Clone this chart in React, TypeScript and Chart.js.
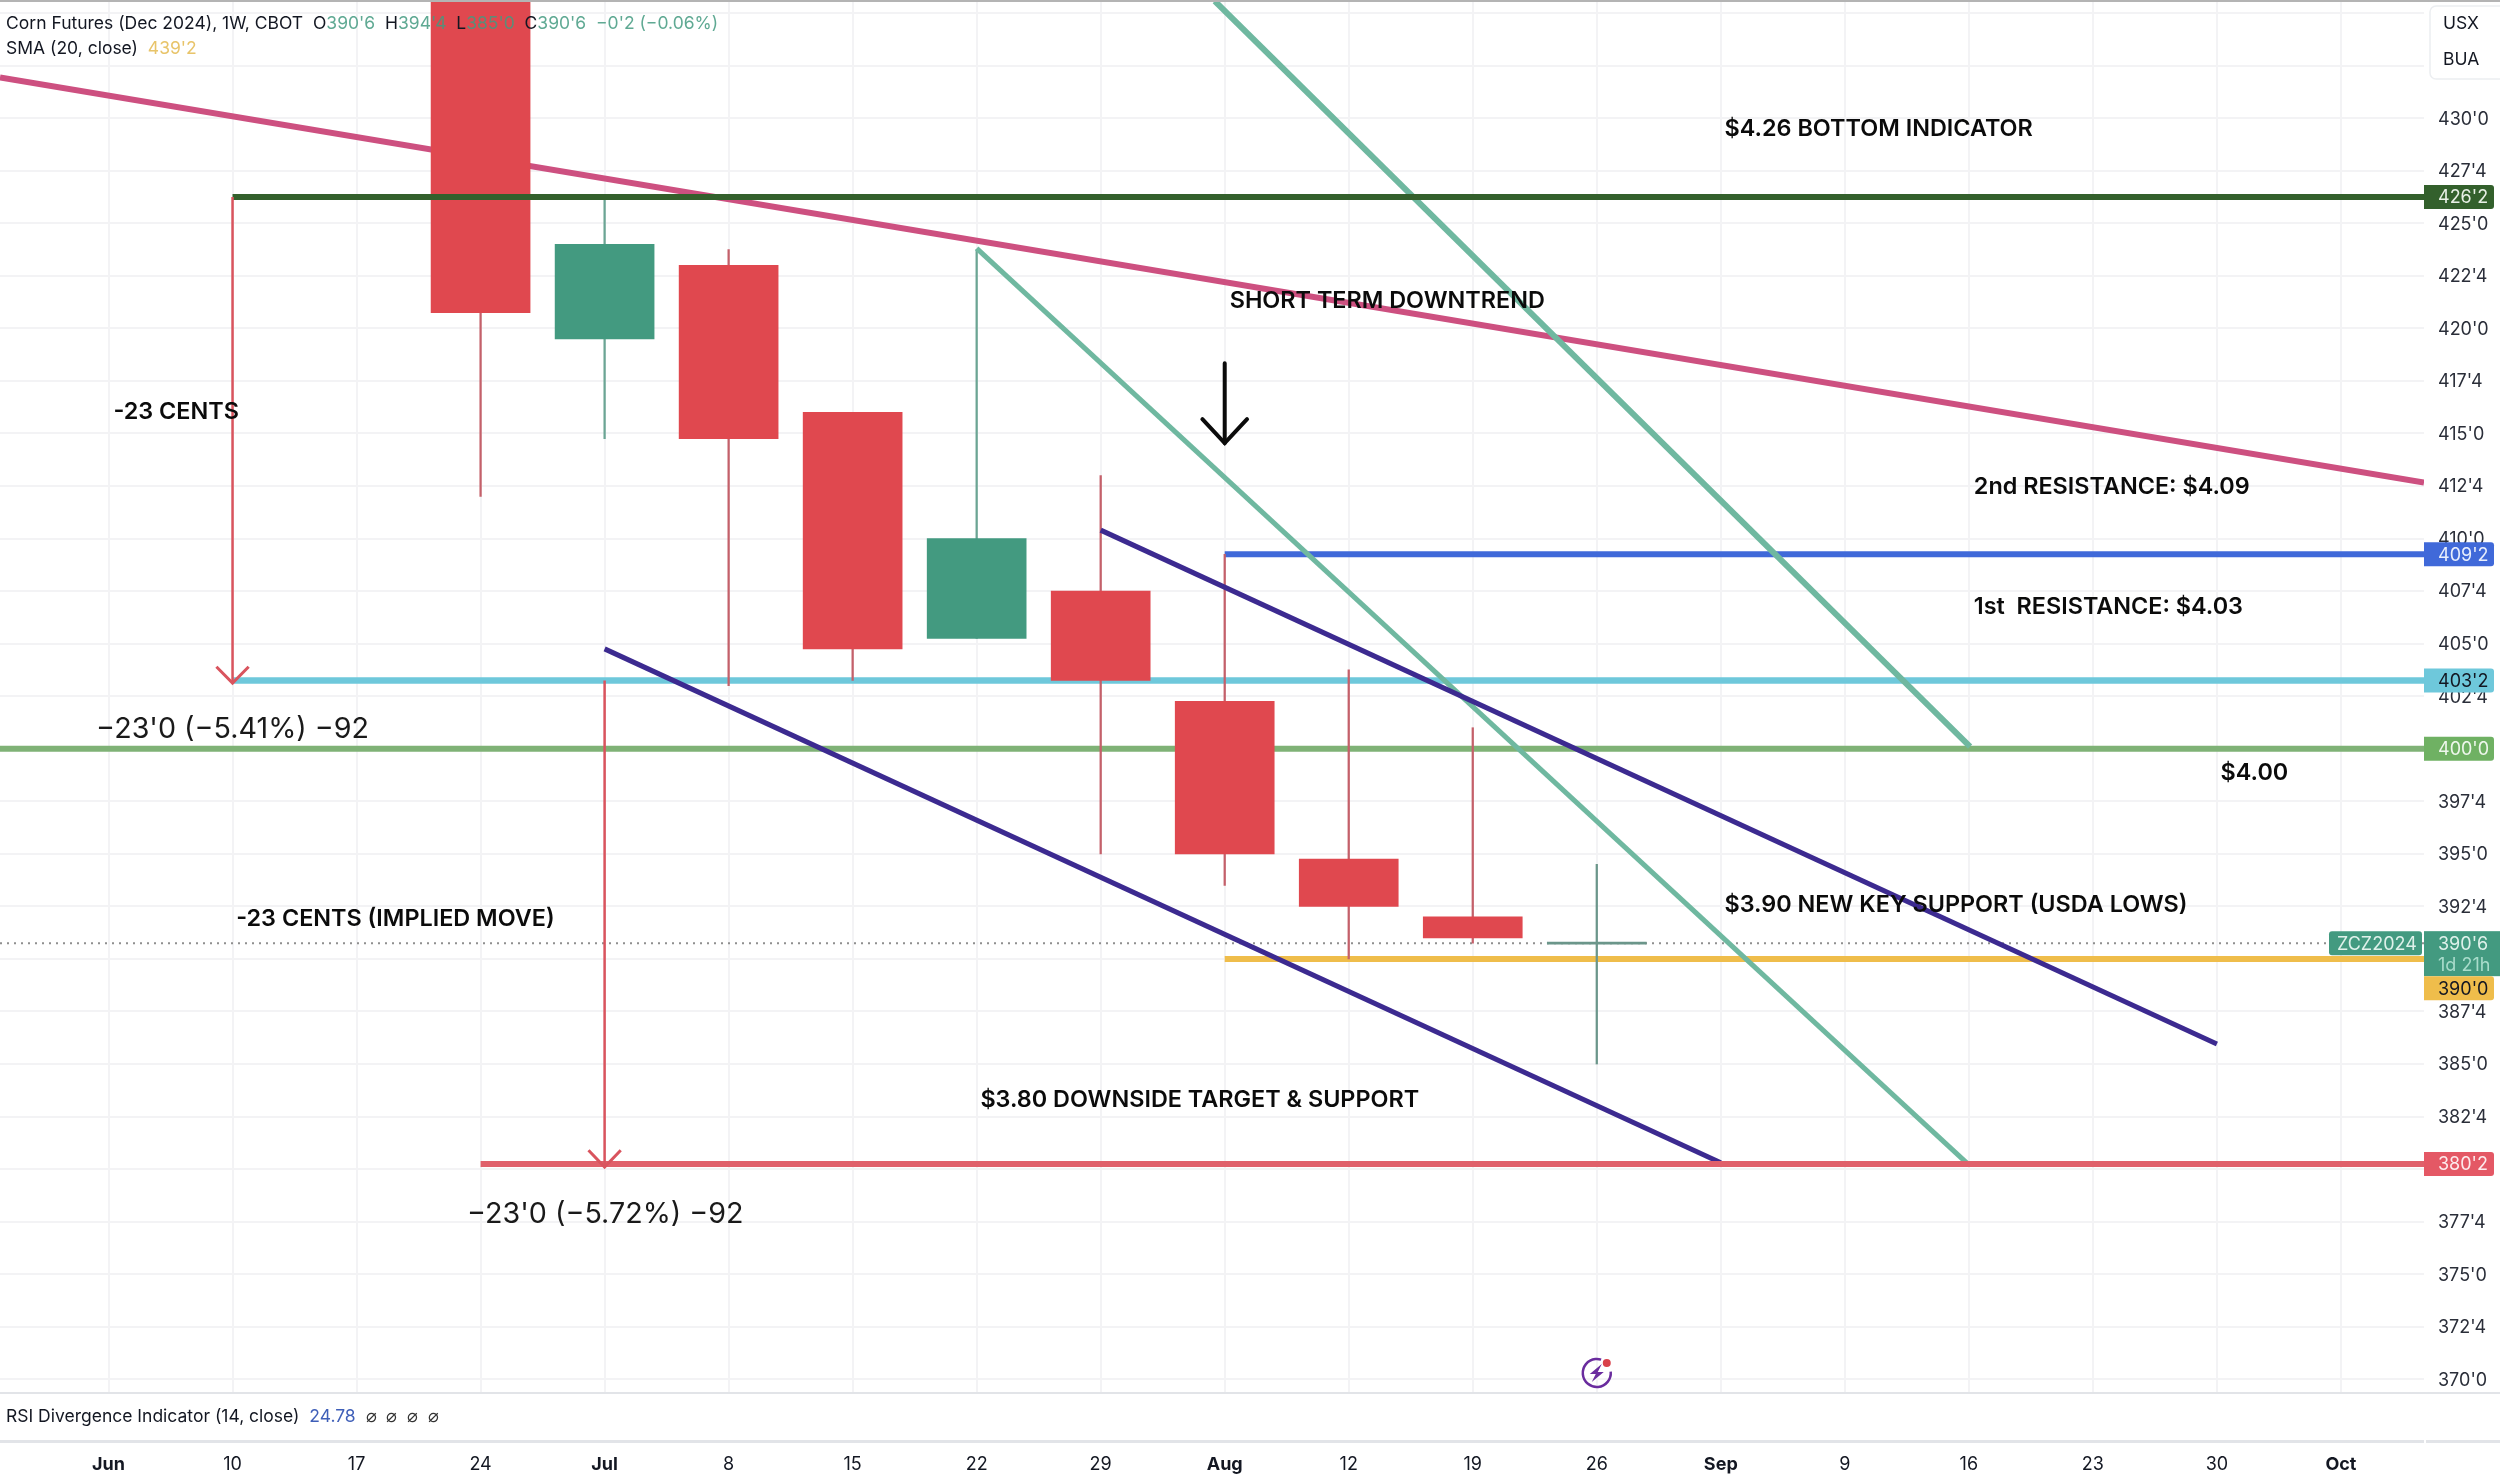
import React, { useEffect, useRef } from "react";
import { Chart, registerables } from "chart.js";

Chart.register(...registerables);

// ---- data ----
const weekLabels = ["Jun", "10", "17", "24", "Jul", "8", "15", "22", "29", "Aug", "12", "19", "26", "Sep", "9", "16", "23", "30", "Oct"];
const monthLabels = ["Jun", "Jul", "Aug", "Sep", "Oct"];
const candleWeeks = [3, 4, 5, 6, 7, 8, 9, 10, 11, 12];
const opens = [441, 419.5, 423, 416, 405.25, 407.5, 402.25, 394.75, 392, 390.7];
const closes = [420.75, 424, 414.75, 404.75, 410, 403.25, 395, 392.5, 391, 390.8];
const highs = [445, 426.25, 423.75, 416, 423.75, 413, 409.25, 403.75, 401, 394.5];
const lows = [412, 414.75, 403, 403.25, 405.25, 395, 393.5, 390, 390.75, 385];
const yTickValues = [370, 372.5, 375, 377.5, 380, 382.5, 385, 387.5, 390, 392.5, 395, 397.5, 400, 402.5, 405, 407.5, 410, 412.5, 415, 417.5, 420, 422.5, 425, 427.5, 430, 432.5, 435];
const hiddenYTicks = [390, 432.5, 435];

const darkGreenLevel = [[1, 426.25], [18.67, 426.25]];
const blueLevel = [[9, 409.25], [18.67, 409.25]];
const cyanLevel = [[1, 403.25], [18.67, 403.25]];
const greenLevel = [[-0.875, 400], [18.67, 400]];
const yellowLevel = [[9, 390], [18.67, 390]];
const redLevel = [[3, 380.25], [18.67, 380.25]];
const lastPriceLine = [[-0.875, 390.75], [18.67, 390.75]];
const pinkTrend = [[-0.875, 431.93], [18.67, 412.66]];
const tealThickTrend = [[8.92, 435.57], [15.01, 400.1]];
const tealThinTrend = [[7, 423.8], [15, 380.2]];
const purpleUpperTrend = [[8, 410.4], [17, 385.95]];
const purpleLowerTrend = [[4, 404.75], [13, 380.3]];
const redArrowA = [[1, 426.25], [1, 403.12]];
const redArrowAHead = [[0.87, 403.9], [1, 403.12], [1.13, 403.9]];
const redArrowB = [[4, 403.25], [4, 380.1]];
const redArrowBHead = [[3.87, 380.9], [4, 380.1], [4.13, 380.9]];
const blackArrow = [[9, 418.34], [9, 414.54]];
const blackArrowHead = [[8.82, 415.68], [9, 414.54], [9.18, 415.68]];

const noteTexts = ["$4.26 BOTTOM INDICATOR", "SHORT TERM DOWNTREND", "-23 CENTS", "2nd RESISTANCE: $4.09", "1st  RESISTANCE: $4.03", "$4.00", "-23 CENTS (IMPLIED MOVE)", "$3.90 NEW KEY SUPPORT (USDA LOWS)", "$3.80 DOWNSIDE TARGET & SUPPORT"];
const noteWeeks = [13.03, 9.04, 0.04, 15.04, 15.04, 17.03, 1.03, 13.03, 7.03];
const notePrices = [429.5, 421.3, 416, 412.43, 406.75, 398.85, 391.88, 392.57, 383.3];
const measureTexts = ["\u221223'0 (\u22125.41%) \u221292", "\u221223'0 (\u22125.72%) \u221292"];
const measureWeeks = [-0.1, 2.89];
const measurePrices = [400.9, 377.85];

const tagValues = [426.25, 409.25, 403.25, 400, 380.25];
const tagLabels = ["426'2", "409'2", "403'2", "400'0", "380'2"];
const tagFills = ["#33602c", "#4069d9", "#6ec8db", "#6fb163", "#e45865"];
const tagInks = ["#e8f0e6", "#e8eefc", "#131722", "#eef7ec", "#fdeaec"];

const RED = "#e0484f";
const GREEN = "#439a80";
const FONT = "Inter, sans-serif";

const fmt = (v: number) => {
  const whole = Math.floor(v);
  return `${whole}'${Math.round((v - whole) * 8)}`;
};

const toPoints = (pts: number[][]) => pts.map(([x, y]) => ({ x, y }));

const line = (pts: number[][], color: string, width: number, order: number, extra: any = {}) => ({
  type: "line",
  data: toPoints(pts),
  borderColor: color,
  borderWidth: width,
  pointRadius: 0,
  tension: 0,
  fill: false,
  order,
  ...extra,
});

const overlay = {
  id: "overlay",
  afterDraw(chart: any) {
    const { ctx, scales } = chart;
    const x = scales.x;
    const y = scales.y;
    const right = chart.chartArea.right;
    const W = chart.width;
    ctx.save();
    ctx.textBaseline = "middle";
    ctx.textAlign = "left";

    // notes
    ctx.fillStyle = "#0b0b0b";
    ctx.font = `600 23.4px ${FONT}`;
    noteTexts.forEach((t, i) => ctx.fillText(t, x.getPixelForValue(noteWeeks[i]), y.getPixelForValue(notePrices[i])));
    ctx.fillStyle = "#1a1a1a";
    ctx.font = `400 28.7px ${FONT}`;
    measureTexts.forEach((t, i) => ctx.fillText(t, x.getPixelForValue(measureWeeks[i]), y.getPixelForValue(measurePrices[i])));

    // pane separators
    ctx.fillStyle = "#b4b4b4";
    ctx.fillRect(0, 0, W, 2);
    ctx.fillStyle = "#e2e4e8";
    ctx.fillRect(0, 1392, W, 2);
    ctx.fillRect(0, 1440, right, 3);
    ctx.fillRect(right + 2, 1440, W - right, 3);

    // header runs
    const runs = (px: number, py: number, parts: [string, string][]) => {
      let cx = px;
      parts.forEach(([t, c]) => {
        ctx.fillStyle = c;
        ctx.fillText(t, cx, py);
        cx += ctx.measureText(t).width;
      });
    };
    const tv = "rgba(67,154,128,0.85)";
    ctx.font = `400 17.5px ${FONT}`;
    runs(6, 24, [["Corn Futures (Dec 2024), 1W, CBOT  O", "#131722"], ["390'6", tv], ["  H", "#131722"], ["394'4", tv], ["  L", "#131722"], ["385'0", tv], ["  C", "#131722"], ["390'6", tv], ["  \u22120'2 (\u22120.06%)", tv]]);
    runs(6, 49, [["SMA (20, close)  ", "#131722"], ["439'2", "#e8c46a"]]);
    runs(6, 1417, [["RSI Divergence Indicator (14, close)  ", "#131722"], ["24.78", "#3f5fb8"], ["  \u2300  \u2300  \u2300  \u2300", "#333333"]]);

    // unit box
    ctx.strokeStyle = "#eceef1";
    ctx.lineWidth = 1.5;
    ctx.beginPath();
    ctx.roundRect(2430, 6, 80, 73, 6);
    ctx.stroke();
    ctx.fillStyle = "#131722";
    ctx.font = `400 17.5px ${FONT}`;
    ctx.fillText("USX", 2443, 24);
    ctx.fillText("BUA", 2443, 60);

    // axis tags
    ctx.font = `400 18px ${FONT}`;
    tagValues.forEach((v, i) => {
      const py = y.getPixelForValue(v);
      ctx.fillStyle = tagFills[i];
      ctx.beginPath();
      ctx.roundRect(right, py - 12, 70, 24, [0, 3, 3, 0]);
      ctx.fill();
      ctx.fillStyle = tagInks[i];
      ctx.fillText(tagLabels[i], 2438, py + 1);
    });

    // last price
    const py = y.getPixelForValue(390.75);
    ctx.fillStyle = "#439a80";
    ctx.beginPath();
    ctx.roundRect(2329, py - 12, 93, 24, 3);
    ctx.fill();
    ctx.fillRect(right, py - 12, 76, 45);
    ctx.fillStyle = "#dff1ea";
    ctx.fillText("ZCZ2024", 2337, py + 1);
    ctx.fillText("390'6", 2438, py + 1);
    ctx.fillStyle = "#a9dccb";
    ctx.fillText("1d 21h", 2438, py + 22);
    ctx.fillStyle = "#efbd4b";
    ctx.beginPath();
    ctx.roundRect(right, py + 33, 70, 24, [0, 3, 3, 0]);
    ctx.fill();
    ctx.fillStyle = "#131722";
    ctx.fillText(fmt(390), 2438, py + 46);

    // lightning badge
    const bx = x.getPixelForValue(12);
    const by = 1373;
    ctx.strokeStyle = "#6a2c9e";
    ctx.lineWidth = 2.5;
    ctx.beginPath();
    ctx.arc(bx, by, 14, -0.1, Math.PI * 1.6);
    ctx.stroke();
    ctx.fillStyle = "#6a2c9e";
    ctx.beginPath();
    ctx.moveTo(bx + 5, by - 9);
    ctx.lineTo(bx - 7, by + 1);
    ctx.lineTo(bx - 1, by + 1);
    ctx.lineTo(bx - 5, by + 9);
    ctx.lineTo(bx + 7, by - 1);
    ctx.lineTo(bx + 1, by - 1);
    ctx.closePath();
    ctx.fill();
    ctx.fillStyle = "#d9404a";
    ctx.beginPath();
    ctx.arc(bx + 10, by - 10, 4, 0, Math.PI * 2);
    ctx.fill();
    ctx.restore();
  },
};

export default function App() {
  const ref = useRef<HTMLCanvasElement>(null);
  useEffect(() => {
    if (!ref.current) return;
    const colors = candleWeeks.map((_, i) => (closes[i] >= opens[i] ? GREEN : RED));
    colors[colors.length - 1] = "#6b968a";
    const chart = new Chart(ref.current, {
      type: "bar",
      data: {
        datasets: [
          line(lastPriceLine, "#8f8f8f", 2, 30, { borderDash: [2, 5] }),
          {
            type: "bar",
            data: candleWeeks.map((w, i) => ({ x: w, y: [lows[i], highs[i]] })),
            backgroundColor: colors.map((c) => (c === RED ? "#c4606a" : c === GREEN ? "#6ba594" : c)),
            barThickness: 1.6,
            grouped: false,
            order: 20,
          },
          {
            type: "bar",
            data: candleWeeks.map((w, i) => ({ x: w, y: [opens[i], closes[i]] })),
            backgroundColor: colors,
            barThickness: 99,
            grouped: false,
            order: 19,
          },
          line(pinkTrend, "#cd5080", 6, 25),
          line(tealThickTrend, "#6fb8a0", 6, 10),
          line(tealThinTrend, "#6fb8a0", 5, 10),
          line(purpleUpperTrend, "#3c2a90", 5, 9),
          line(purpleLowerTrend, "#3c2a90", 5, 9),
          line(greenLevel, "#7fb276", 6, 22),
          line(darkGreenLevel, "#33602c", 6, 8),
          line(blueLevel, "#4069d9", 6, 22),
          line(cyanLevel, "#6ec8db", 6.5, 22),
          line(yellowLevel, "#efbd4b", 6, 22),
          line(redLevel, "#e0606b", 6, 8),
          line(redArrowA, "#d9545e", 2.5, 7),
          line(redArrowAHead, "#d9545e", 3, 7),
          line(redArrowB, "#d9545e", 2.5, 7),
          line(redArrowBHead, "#d9545e", 3, 7),
          line(blackArrow, "#0b0b0b", 4, 6, { borderCapStyle: "round" }),
          line(blackArrowHead, "#0b0b0b", 4, 6, { borderCapStyle: "round" }),
        ] as any,
      },
      options: {
        animation: false,
        responsive: false,
        devicePixelRatio: 1,
        layout: { padding: 0 },
        plugins: { legend: { display: false }, tooltip: { enabled: false } },
        events: [],
        scales: {
          x: {
            type: "linear",
            offset: false,
            min: -0.875,
            max: 18.67,
            afterFit: (s: any) => { s.height = 88; s.paddingLeft = 0; s.paddingRight = 0; s.paddingTop = 0; s.paddingBottom = 0; },
            afterBuildTicks: (s: any) => { s.ticks = weekLabels.map((_, i) => ({ value: i })); },
            grid: { color: "#f3f3f5", lineWidth: 2, drawTicks: false, offset: false },
            border: { display: false },
            ticks: {
              autoSkip: false,
              maxRotation: 0,
              padding: 61,
              color: "#131722",
              font: (c: any) => ({ family: FONT, size: 18, weight: monthLabels.includes(weekLabels[c.tick?.value]) ? "700" : "400" }),
              callback: (v: any) => weekLabels[v] ?? "",
            },
          },
          y: {
            type: "linear",
            position: "right",
            min: 369.35,
            max: 435.62,
            afterFit: (s: any) => { s.width = 76; s.paddingLeft = 0; s.paddingRight = 0; s.paddingTop = 0; s.paddingBottom = 0; },
            afterBuildTicks: (s: any) => { s.ticks = yTickValues.map((value) => ({ value })); },
            grid: { color: "#f3f3f5", lineWidth: 2, drawTicks: false },
            border: { display: false },
            ticks: {
              autoSkip: false,
              padding: 14,
              labelOffset: 1,
              color: "#2a2e39",
              font: { family: FONT, size: 18 },
              callback: (v: any) => (hiddenYTicks.includes(v) ? "" : fmt(v)),
            },
          },
        },
      } as any,
      plugins: [overlay],
    });
    return () => chart.destroy();
  }, []);
  return (
    <div style={{ position: "absolute", left: 0, top: 0, width: 2500, height: 1481, background: "#fff" }}>
      <canvas ref={ref} width={2500} height={1481} style={{ display: "block" }} />
    </div>
  );
}
